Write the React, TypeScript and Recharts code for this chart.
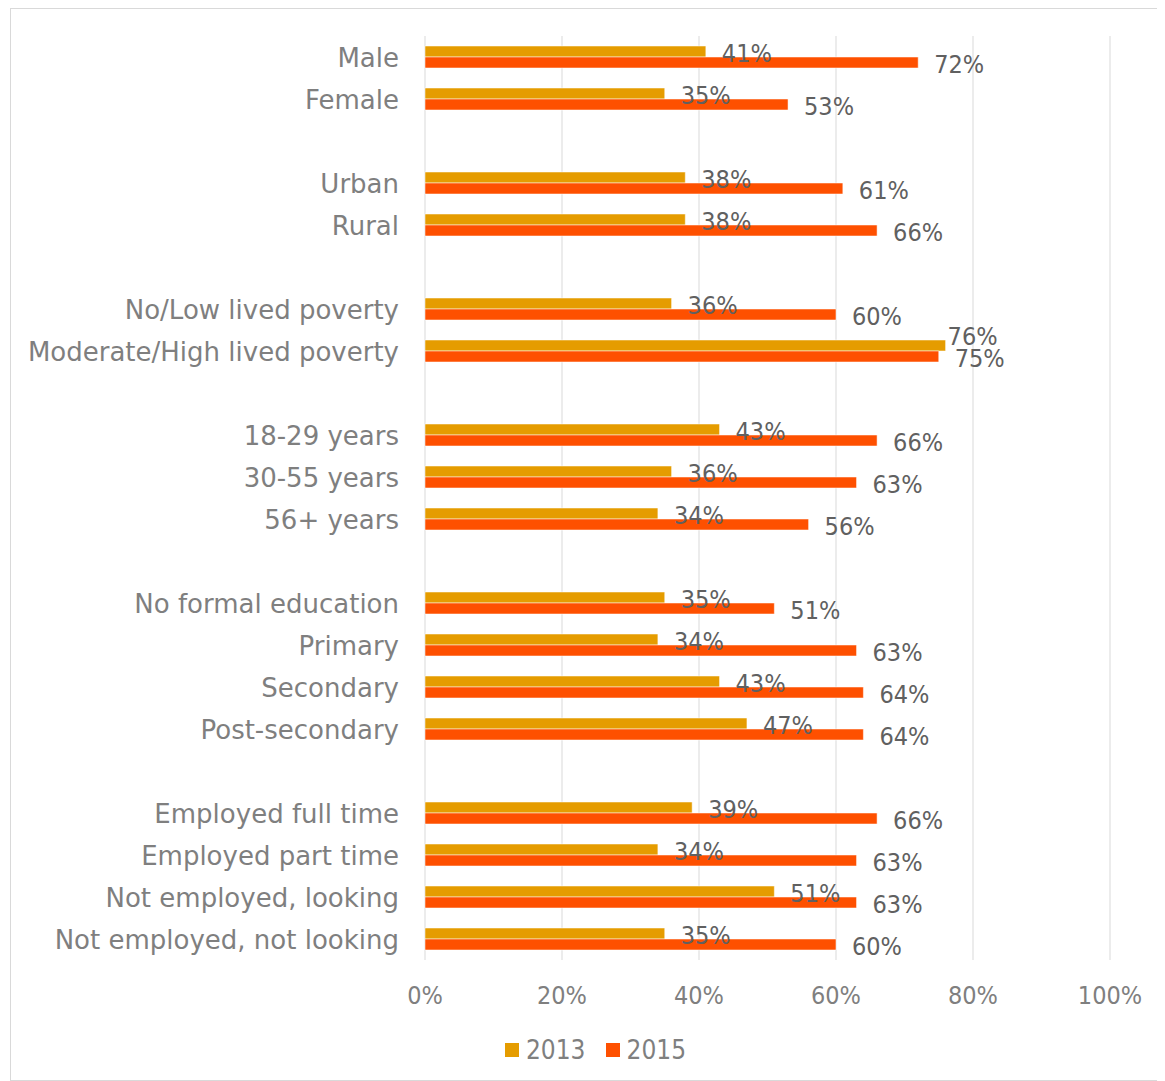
import { BarChart, Bar, XAxis, YAxis, CartesianGrid, Legend, LabelList } from 'recharts';

// blank strings are the spacer rows between groups
const categories = [
  'Male', 'Female', '',
  'Urban', 'Rural', '',
  'No/Low lived poverty', 'Moderate/High lived poverty', '',
  '18-29 years', '30-55 years', '56+ years', '',
  'No formal education', 'Primary', 'Secondary', 'Post-secondary', '',
  'Employed full time', 'Employed part time', 'Not employed, looking', 'Not employed, not looking',
];
const values2013 = [41, 35, null, 38, 38, null, 36, 76, null, 43, 36, 34, null, 35, 34, 43, 47, null, 39, 34, 51, 35];
const values2015 = [72, 53, null, 61, 66, null, 60, 75, null, 66, 63, 56, null, 51, 63, 64, 64, null, 66, 63, 63, 60];
const xTicks = [0, 20, 40, 60, 80, 100];

const COLOR_2013 = '#E59C00';
const COLOR_2015 = '#FE5000';
const TEXT = '#7f7f7f';
const CONDENSED = "'DejaVu Sans Condensed', 'DejaVu Sans', sans-serif";

const chartData = categories.map((name, i) => ({
  key: String(i),
  name,
  y2013: values2013[i],
  y2015: values2015[i],
}));

const CategoryTick = ({ x, y, payload }: any) => {
  const label = categories[Number(payload.value)];
  if (!label) return null;
  return (
    <text x={x - 26} y={y} dy={1} textAnchor="end" dominantBaseline="central"
      fill={TEXT} fontSize={26} fontFamily="'DejaVu Sans', sans-serif">
      {label}
    </text>
  );
};

const PercentTick = ({ x, y, payload }: any) => (
  <text x={x} y={y + 35} textAnchor="middle" dominantBaseline="central"
    fill={TEXT} fontSize={25} fontFamily={CONDENSED} style={{ fontStretch: 'condensed' }}>
    {`${payload.value}%`}
  </text>
);

// label value comes in as the row key, so we can look at both series
// Excel nudges the upper label when it would collide with the lower one
const makeValueLabel = (upper: boolean) => (props: any) => {
  const i = Number(props.value);
  const value = upper ? values2013[i] : values2015[i];
  if (value == null) return null;
  const vb = props.viewBox ?? props;
  const other = values2015[i];
  const collide = upper && other != null && value >= other;
  const dx = collide ? 2 : 16;
  const dy = collide ? -9 : 2;
  return (
    <text x={vb.x + vb.width + dx} y={vb.y + vb.height / 2 + dy} dominantBaseline="central"
      fill="#606060" fontSize={25} fontFamily={CONDENSED} style={{ fontStretch: 'condensed' }}>
      {`${value}%`}
    </text>
  );
};
const Label2013 = makeValueLabel(true);
const Label2015 = makeValueLabel(false);

const LegendContent = () => (
  <div style={{ display: 'flex', justifyContent: 'center', alignItems: 'center', height: 30, marginLeft: 70 }}>
    {[
      { name: '2013', color: COLOR_2013 },
      { name: '2015', color: COLOR_2015 },
    ].map((item) => (
      <div key={item.name} style={{ display: 'flex', alignItems: 'center', margin: '0 10px' }}>
        <div style={{ width: 14, height: 14, background: item.color, marginRight: 7 }} />
        <span style={{ fontSize: 26, color: TEXT, fontFamily: CONDENSED, fontStretch: 'condensed' }}>{item.name}</span>
      </div>
    ))}
  </div>
);

export default function App() {
  return (
    <div style={{ width: 1150, height: 1071, border: '1px solid #d9d9d9', marginLeft: 2, background: '#fff' }}>
      <BarChart
        width={1150}
        height={1071}
        data={chartData}
        layout="vertical"
        barGap={0}
        barCategoryGap={10}
        margin={{ top: 27, right: 51, left: 0, bottom: 15 }}
      >
        <CartesianGrid horizontal={false} stroke="#d9d9d9" />
        <XAxis
          type="number"
          domain={[0, 100]}
          ticks={xTicks}
          axisLine={false}
          tickLine={false}
          tickSize={0}
          tickMargin={0}
          height={75}
          tick={<PercentTick />}
        />
        <YAxis
          type="category"
          dataKey="key"
          width={414}
          axisLine={false}
          tickLine={false}
          tickSize={0}
          tickMargin={0}
          interval={0}
          tick={<CategoryTick />}
        />
        <Legend verticalAlign="bottom" content={<LegendContent />} />
        <Bar dataKey="y2013" name="2013" fill={COLOR_2013} stroke="#fff" strokeOpacity={0.5} isAnimationActive={false}>
          <LabelList dataKey="key" content={<Label2013 />} />
        </Bar>
        <Bar dataKey="y2015" name="2015" fill={COLOR_2015} stroke="#fff" strokeOpacity={0.5} isAnimationActive={false}>
          <LabelList dataKey="key" content={<Label2015 />} />
        </Bar>
      </BarChart>
    </div>
  );
}
